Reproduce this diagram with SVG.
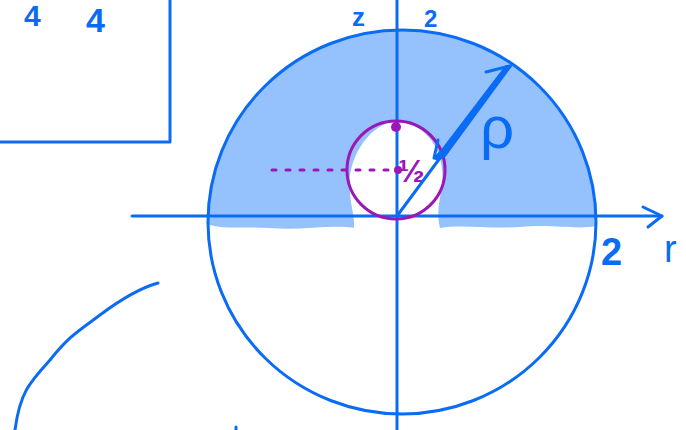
<svg xmlns="http://www.w3.org/2000/svg" width="686" height="430" viewBox="0 0 686 430">
<style>
.b{fill:none;stroke:#0a6cf5;stroke-width:3;stroke-linecap:round;stroke-linejoin:round}
.p{fill:none;stroke:#9b17b8;stroke-width:3;stroke-linecap:round}
.t{font-family:"Liberation Sans",sans-serif;fill:#0a6cf5}
.tp{font-family:"Liberation Sans",sans-serif;fill:#9b17b8;font-weight:bold}
</style>
<rect width="686" height="430" fill="#fff"/>
<!-- shaded region -->
<path fill="#95c2fc" fill-rule="evenodd" d="M206,224 L208,222 A194 192 0 0 1 596,222 L596,226 C575,230 555,224 520,227 C490,229 460,224 440,228 L356,228 C330,224 300,231 270,228 C245,226 225,230 206,224 Z M354,228 C355,215 350,205 350,190 C346,160 370,122 396,122 C425,122 446,150 442,185 C440,200 436,212 440,228 Z"/>
<!-- box top-left -->
<polyline class="b" points="170,0 170,142 0,142"/>
<text class="t" x="24" y="26" font-size="30" font-weight="bold">4</text>
<text class="t" x="86" y="32" font-size="34" font-weight="bold">4</text>
<!-- axes -->
<line class="b" x1="397" y1="0" x2="397" y2="430"/>
<line class="b" x1="132" y1="216" x2="662" y2="216"/>
<polyline class="b" points="643,207 662,216 648,227"/>
<!-- big circle -->
<ellipse class="b" cx="402" cy="222" rx="194" ry="192"/>
<!-- labels -->
<text class="t" x="352" y="26" font-size="26" font-weight="bold">z</text>
<text class="t" x="424" y="27" font-size="24" font-weight="bold">2</text>
<text class="t" x="601" y="265" font-size="38" font-weight="bold">2</text>
<text class="t" x="664" y="262" font-size="38">r</text>
<!-- small circle -->
<circle cx="396" cy="170" r="49" fill="none" stroke="#9b17b8" stroke-width="3"/>
<line class="p" x1="272" y1="170" x2="394" y2="170" stroke-dasharray="4 10"/>
<circle cx="396" cy="127" r="5" fill="#9b17b8"/>
<circle cx="398" cy="170" r="4" fill="#9b17b8"/>
<text class="tp" x="398" y="182" font-size="32">½</text>
<!-- rho arrow -->
<line class="b" x1="397" y1="216" x2="440" y2="158" stroke-width="2.5"/>
<polygon fill="#0a6cf5" stroke="#0a6cf5" stroke-width="2" stroke-linejoin="round" points="434,158 442,150 506,66 511,66 445,156 438,160"/>
<polyline class="b" points="486,72 510,66 499,80"/>
<polyline class="b" points="438,140 434,158 447,152"/>
<text class="t" x="480" y="148" font-size="60">ρ</text>
<!-- curve lower left -->
<path class="b" d="M158,283 C140,288 120,300 100,315 C80,330 70,335 50,360 C30,382 20,392 15,430"/>
<line class="b" x1="236" y1="427" x2="236" y2="430"/>
</svg>
